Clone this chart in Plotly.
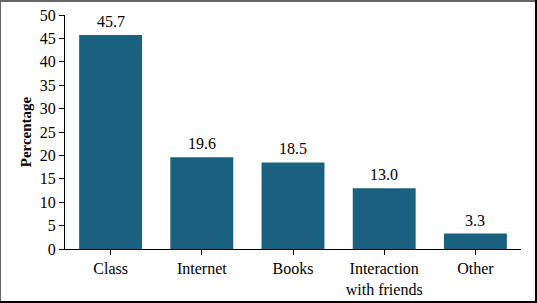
import plotly.graph_objects as go

categories = ["Class", "Internet", "Books", "Interaction<br>with friends", "Other"]
values = [45.7, 19.6, 18.5, 13.0, 3.3]
labels = ["45.7", "19.6", "18.5", "13.0", "3.3"]

W, H = 537, 303
ml, mr, mt, mb = 65, 16, 15, 54
pw, ph = W - ml - mr, H - mt - mb

font = "Liberation Serif, Times New Roman, serif"

fig = go.Figure(go.Bar(
    x=categories, y=values,
    marker=dict(color="#1a6180", line=dict(width=0)),
))

for c, v, t in zip(categories, values, labels):
    fig.add_annotation(x=c, y=v, text=t, showarrow=False, yanchor="bottom",
                       yshift=3, font=dict(size=16, color="black", family=font))

def px(x):
    return (x - ml) / pw

def py(y):
    return 1 - (y - mt) / ph

shapes = [
    dict(type="line", xref="paper", yref="paper", x0=px(0), x1=px(W), y0=py(1), y1=py(1), line=dict(color="#666666", width=2)),
    dict(type="line", xref="paper", yref="paper", x0=px(0.5), x1=px(0.5), y0=py(0), y1=py(H), line=dict(color="#666666", width=1)),
    dict(type="line", xref="paper", yref="paper", x0=px(W - 1), x1=px(W - 1), y0=py(0), y1=py(H), line=dict(color="black", width=2)),
    dict(type="line", xref="paper", yref="paper", x0=px(0), x1=px(W), y0=py(H - 1), y1=py(H - 1), line=dict(color="black", width=2)),
]

fig.update_layout(
    width=W, height=H,
    margin=dict(l=ml, r=mr, t=mt, b=mb),
    paper_bgcolor="white", plot_bgcolor="white",
    bargap=0.31,
    showlegend=False,
    font=dict(family=font, size=16, color="black"),
    shapes=shapes,
    xaxis=dict(showline=True, linecolor="black", linewidth=1, ticks="outside",
               ticklen=5, tickcolor="black", tickfont=dict(size=16, family=font),
               showgrid=False, automargin=False),
    yaxis=dict(range=[0, 50], dtick=5, showline=True, linecolor="black", linewidth=1,
               ticks="outside", ticklen=5, tickcolor="black", showgrid=False,
               zeroline=False, tickfont=dict(size=16, family=font), automargin=False,
               title=dict(text="<b>Percentage</b>", font=dict(size=15, family=font), standoff=4)),
)

fig.write_html("out.html")
